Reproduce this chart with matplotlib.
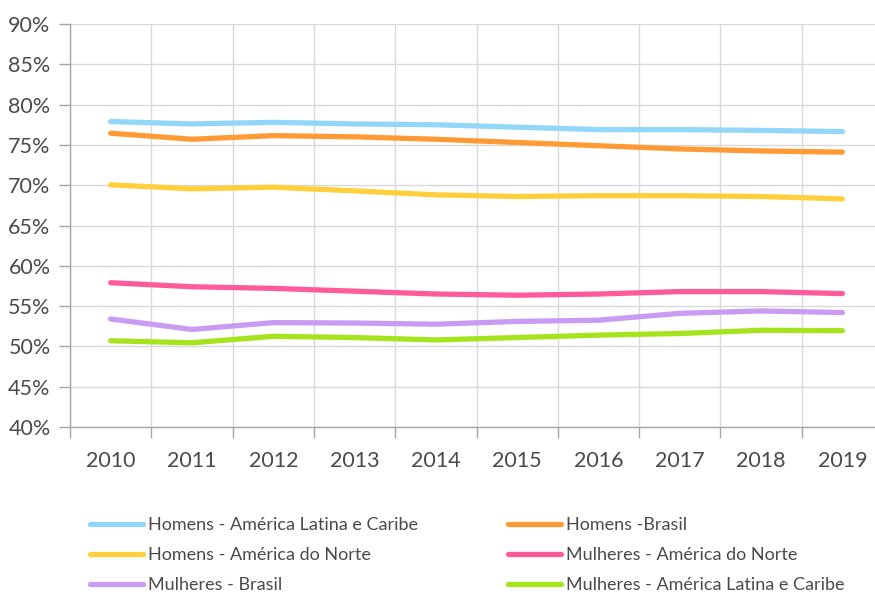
import numpy as np
from matplotlib import pyplot as plt
from matplotlib.lines import Line2D

years = ["2010", "2011", "2012", "2013", "2014", "2015", "2016", "2017", "2018", "2019"]

homens_alc = [77.9, 77.6, 77.8, 77.6, 77.5, 77.2, 76.9, 76.9, 76.8, 76.65]
homens_brasil = [76.45, 75.7, 76.15, 76.0, 75.7, 75.3, 74.9, 74.5, 74.25, 74.1]
homens_an = [70.05, 69.55, 69.75, 69.3, 68.8, 68.6, 68.7, 68.7, 68.6, 68.3]
mulheres_an = [57.9, 57.4, 57.2, 56.85, 56.5, 56.35, 56.5, 56.8, 56.8, 56.55]
mulheres_brasil = [53.4, 52.1, 52.95, 52.9, 52.75, 53.1, 53.25, 54.1, 54.4, 54.2]
mulheres_alc = [50.7, 50.45, 51.25, 51.1, 50.8, 51.1, 51.4, 51.6, 52.0, 51.95]

series = [
    ("Homens - América Latina e Caribe", homens_alc, "#92d6f9"),
    ("Homens - América do Norte", homens_an, "#ffd03c"),
    ("Mulheres - Brasil", mulheres_brasil, "#c99bf3"),
    ("Homens -Brasil", homens_brasil, "#ff9a35"),
    ("Mulheres - América do Norte", mulheres_an, "#ff5b9a"),
    ("Mulheres - América Latina e Caribe", mulheres_alc, "#a5e31c"),
]

plt.rcParams['font.family'] = ['Lato', 'DejaVu Sans']
txt_color = "#4a4a4a"

fig = plt.figure(figsize=(8.75, 5.92), dpi=100)
ax = fig.add_axes([70/875, 165/592, 813/875, 403/592])

x = np.arange(len(years))
# draw in the reference stacking order
for name, vals, col in [series[0], series[3], series[1], series[4], series[2], series[5]]:
    ax.plot(x, vals, color=col, linewidth=3.8, solid_capstyle="round",
            solid_joinstyle="round", zorder=3)

ax.set_xlim(-0.5, len(years) - 0.5)
ax.set_ylim(40, 90)
ax.set_yticks(np.arange(40, 91, 5))
ax.set_yticklabels([f"{v}%" for v in range(40, 91, 5)])
ax.set_xticks(x)
ax.set_xticklabels(years)
ax.set_xticks(np.arange(-0.5, len(years)), minor=True)

ax.grid(True, which="minor", axis="x", color="#d9d9d9", linewidth=1.0)
ax.grid(True, which="major", axis="y", color="#d9d9d9", linewidth=1.0)
ax.tick_params(axis="x", which="major", length=0, pad=17, labelsize=15.5,
               labelcolor=txt_color)
ax.tick_params(axis="x", which="minor", length=8, color="#a6a6a6", width=1)
ax.tick_params(axis="y", length=8, color="#a6a6a6", width=1, pad=6,
               labelsize=15.5, labelcolor=txt_color)
for s in ["top", "right"]:
    ax.spines[s].set_visible(False)
for s in ["left", "bottom"]:
    ax.spines[s].set_color("#a6a6a6")
    ax.spines[s].set_linewidth(1.0)

def make_legend(items, xpos):
    handles = [Line2D([], [], color=c, linewidth=3.8, solid_capstyle="round")
               for _, _, c in items]
    leg = fig.legend(handles, [n for n, _, _ in items], loc="upper left",
                     bbox_to_anchor=(xpos, 1 - 517/592), frameon=False,
                     fontsize=13, handlelength=2.95, handletextpad=0.25,
                     labelspacing=0.78, borderaxespad=0, borderpad=0)
    for t in leg.get_texts():
        t.set_color(txt_color)
    return leg

make_legend(series[:3], 90/875)
make_legend(series[3:], 508/875)

fig.savefig("out.png", dpi=100)
